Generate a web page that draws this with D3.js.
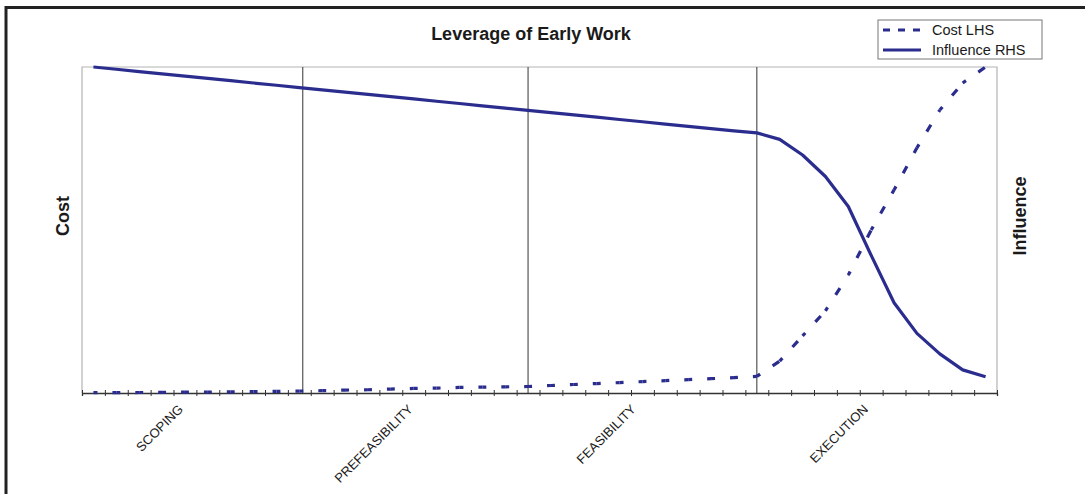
<!DOCTYPE html>
<html>
<head>
<meta charset="utf-8">
<script src="https://cdn.jsdelivr.net/npm/d3@7"></script>
<style>
body { margin:0; background:#fff; }
svg text { font-family: "Liberation Sans", Arial, sans-serif; fill:#1a1a1a; }
</style>
</head>
<body>
<div class="graph-leverage"></div>
<script>
// 40 periods along the project life (0-100 on each side)
var cost = [
0.1, 0.1, 0.15, 0.2, 0.25, 0.3, 0.35, 0.4, 0.5, 0.6,
0.7, 0.9, 1.0, 1.2, 1.4, 1.5, 1.7, 1.8, 1.9, 2.0,
2.3, 2.6, 2.9, 3.2, 3.5, 3.8, 4.1, 4.4, 4.7, 5.1,
9.8, 17.5, 25.2, 36.2, 50, 62.3, 75.2, 86.8, 95.1, 100];

var influence = [
100, 99.3, 98.6, 97.9, 97.2, 96.5, 95.8, 95.1, 94.4, 93.7,
93.0, 92.3, 91.6, 90.9, 90.2, 89.5, 88.8, 88.1, 87.4, 86.7,
86.0, 85.3, 84.6, 83.9, 83.2, 82.5, 81.8, 81.1, 80.4, 79.8,
77.8, 73.0, 66.4, 57.2, 42.2, 27.7, 18.3, 12.0, 7.1, 5.0];

// phases: name, where the label sits and where the phase ends (in periods)
var phases = ["SCOPING", "PREFEASIBILITY", "FEASIBILITY", "EXECUTION"];
var phaseLabelAt = [4.45, 14.5, 24.25, 34.4];
var phaseEnds = [9.65, 19.5, 29.5];

var seriesNames = ["Cost LHS", "Influence RHS"];

var width = 1085, height = 494;
var plotLeft = 82, plotRight = 997, plotTop = 67, plotBottom = 393;
var blue = "#2b2d8e";

var svg = d3.select(".graph-leverage").append("svg")
	.attr("width", width)
	.attr("height", height);

var x = d3.scaleLinear().domain([0, cost.length]).range([plotLeft, plotRight]);
var yCost = d3.scaleLinear().domain([0, 100]).range([plotBottom, plotTop]);
var yInf = d3.scaleLinear().domain([0, 100]).range([plotBottom, plotTop]);

// outer frame (top and left only visible)
svg.append("path")
	.attr("d", "M6," + height + "V7.5H" + width)
	.attr("fill", "none")
	.attr("stroke", "#222")
	.attr("stroke-width", 3);

// plot frame
svg.append("path")
	.attr("d", "M" + plotLeft + "," + plotBottom + "V" + plotTop + "H" + plotRight + "V" + plotBottom)
	.attr("fill", "none")
	.attr("stroke", "#b4b4b4")
	.attr("stroke-width", 1.2);

// phase separators
svg.selectAll(".phase-line")
	.data(phaseEnds)
	.enter().append("line")
	.attr("class", "phase-line")
	.attr("x1", function(d){ return x(d); })
	.attr("x2", function(d){ return x(d); })
	.attr("y1", plotTop)
	.attr("y2", plotBottom)
	.attr("stroke", "#555")
	.attr("stroke-width", 1.2);

// bottom axis with a tick between every period
var axis = svg.append("g")
	.attr("transform", "translate(0," + plotBottom + ")")
	.call(d3.axisBottom(x).tickValues(d3.range(cost.length + 1)).tickFormat("").tickSizeOuter(0).tickSize(3));
axis.select(".domain").attr("stroke", "#333").attr("stroke-width", 1.3);
axis.selectAll(".tick line").attr("y1", -3).attr("y2", 3).attr("stroke", "#333");

svg.selectAll(".phase-label")
	.data(phases)
	.enter().append("text")
	.attr("class", "phase-label")
	.attr("text-anchor", "end")
	.attr("font-size", 13)
	.attr("transform", function(d, i){ return "translate(" + x(phaseLabelAt[i]) + "," + (plotBottom + 17) + ") rotate(-45)"; })
	.text(function(d){ return d; });

// influence: solid
var lineInf = d3.line()
	.x(function(d, i){ return x(i + 0.5); })
	.y(function(d){ return yInf(d); });

svg.append("path")
	.datum(influence)
	.attr("d", lineInf)
	.attr("fill", "none")
	.attr("stroke", blue)
	.attr("stroke-width", 3.2)
	.attr("stroke-linejoin", "round");

// cost: dashed, pattern restarts at each point like the original
var segs = d3.pairs(cost.map(function(d, i){ return [x(i + 0.5), yCost(d)]; }));
svg.selectAll(".cost-seg")
	.data(segs)
	.enter().append("path")
	.attr("class", "cost-seg")
	.attr("d", function(d){ return d3.line()(d); })
	.attr("fill", "none")
	.attr("stroke", blue)
	.attr("stroke-width", 3.2)
	.attr("stroke-dasharray", "8,15")
	.attr("stroke-dashoffset", 4);

// titles
svg.append("text")
	.attr("x", 531).attr("y", 40)
	.attr("text-anchor", "middle")
	.attr("font-weight", "bold")
	.attr("font-size", 18)
	.text("Leverage of Early Work");

svg.append("text")
	.attr("transform", "translate(69,216) rotate(-90)")
	.attr("text-anchor", "middle")
	.attr("font-weight", "bold")
	.attr("font-size", 18)
	.text("Cost");

svg.append("text")
	.attr("transform", "translate(1026,216) rotate(-90)")
	.attr("text-anchor", "middle")
	.attr("font-weight", "bold")
	.attr("font-size", 18)
	.text("Influence");

// legend
var legend = svg.append("g").attr("transform", "translate(878,20)");
legend.append("rect")
	.attr("width", 164).attr("height", 39)
	.attr("fill", "#fff")
	.attr("stroke", "#777");

var item = legend.selectAll(".item")
	.data(seriesNames)
	.enter().append("g")
	.attr("class", "item")
	.attr("transform", function(d, i){ return "translate(0," + (10 + i * 20) + ")"; });

item.append("line")
	.attr("x1", 5).attr("x2", 43)
	.attr("stroke", blue)
	.attr("stroke-width", 3)
	.attr("stroke-dasharray", function(d, i){ return i == 0 ? "7,8" : null; });

item.append("text")
	.attr("x", 54).attr("y", 5)
	.attr("font-size", 14.5)
	.text(function(d){ return d; });
</script>
</body>
</html>
